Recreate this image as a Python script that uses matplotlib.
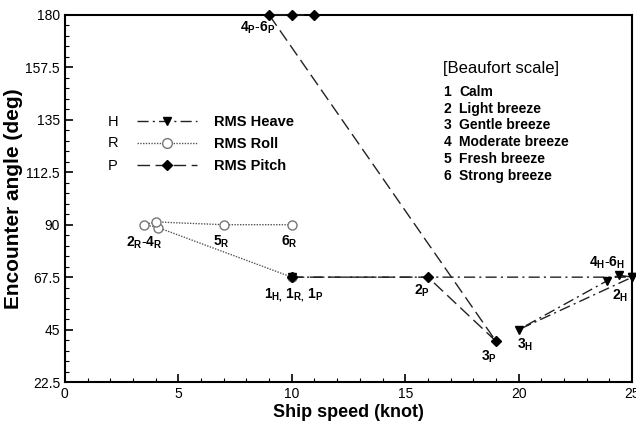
import numpy as np
import matplotlib
matplotlib.use("Agg")
import matplotlib.pyplot as plt
from matplotlib.ticker import MultipleLocator
from matplotlib.lines import Line2D

plt.rcParams['font.family'] = ['Liberation Sans', 'DejaVu Sans']
plt.rcParams['mathtext.fontset'] = 'custom'
plt.rcParams['mathtext.rm'] = 'Liberation Sans:bold'
plt.rcParams['mathtext.it'] = 'Liberation Sans:bold'
plt.rcParams['mathtext.bf'] = 'Liberation Sans:bold'
plt.rcParams['mathtext.default'] = 'rm'

# speed (knot) / encounter angle (deg), in Beaufort order 1..6
heave_speed = [10, 25, 20, 23.9, 24.4, 25]
heave_angle = [67.5, 67.5, 45, 66, 68.4, 67.5]
roll_speed = [10, 4.1, 3.5, 4.0, 7, 10]
roll_angle = [67.5, 88.8, 90, 91.2, 90, 90]
pitch_speed = [10, 16, 19, 9, 10, 11]
pitch_angle = [67.5, 67.5, 40, 180, 180, 180]

beaufort = ["Calm", "Light breeze", "Gentle breeze", "Moderate breeze",
            "Fresh breeze", "Strong breeze"]

heave_ls = (0, (8, 3, 1.5, 3))
roll_ls = (0, (1, 1))
pitch_ls = (0, (9, 4))

fig = plt.figure(figsize=(6.36, 4.25), dpi=100)
ax = fig.add_axes([0.102, 0.101, 0.892, 0.864])

ax.plot(roll_speed, roll_angle, color="#555555", ls=roll_ls, lw=1,
        marker="o", ms=6.5, mfc="white", mec="#777777", mew=1, zorder=3)
ax.plot(heave_speed, heave_angle, color="#222222", ls=heave_ls, lw=1,
        marker="v", ms=6, mfc="black", mec="black", clip_on=False, zorder=4)
ax.plot(pitch_speed, pitch_angle, color="#222222", ls=pitch_ls, lw=1,
        marker="D", ms=5, mfc="black", mec="black", clip_on=False, zorder=5)

ax.set_xlim(0, 25)
ax.set_ylim(22.5, 180)
ax.xaxis.set_major_locator(MultipleLocator(5))
ax.xaxis.set_minor_locator(MultipleLocator(1))
ax.yaxis.set_minor_locator(MultipleLocator(4.5))
ax.set_yticks([22.5, 45, 67.5, 90, 112.5, 135, 157.5, 180])
ax.set_yticklabels(["22.5", "45", "67.5", "90", "112.5", "135", "157.5", "180"])
ax.tick_params(which="both", direction="in", top=False, right=False, labelsize=10)
ax.tick_params(which="major", length=6, width=1.2)
ax.tick_params(which="minor", length=3, width=0.8)
for s in ax.spines.values():
    s.set_linewidth(1.5)

ax.set_xlabel("Ship speed (knot)", fontsize=13, fontweight="bold", labelpad=2)
ax.set_ylabel("Encounter angle (deg)", fontsize=15, fontweight="bold", labelpad=2)

# point labels
lab = dict(fontsize=10, ha="center", va="center")
ax.text(8.5, 174.5, r"$4_P$-$6_P$", **lab)
ax.text(3.5, 82.3, r"$2_R$-$4_R$", **lab)
ax.text(6.9, 82.5, r"$5_R$", **lab)
ax.text(9.9, 82.5, r"$6_R$", **lab)
ax.text(10.1, 59.5, r"$1_{H,}\,1_{R,}\,1_P$", **lab)
ax.text(15.75, 61.5, r"$2_P$", **lab)
ax.text(18.7, 33.5, r"$3_P$", **lab)
ax.text(20.3, 38.5, r"$3_H$", **lab)
ax.text(23.9, 73.5, r"$4_H$-$6_H$", **lab)
ax.text(24.45, 59.5, r"$2_H$", **lab)

# legend
handles = [
    Line2D([], [], color="#222222", ls=heave_ls, lw=1, marker="v",
           ms=6, mfc="black", mec="black"),
    Line2D([], [], color="#555555", ls=roll_ls, lw=1, marker="o", ms=7,
           mfc="white", mec="#777777"),
    Line2D([], [], color="#222222", ls=pitch_ls, lw=1, marker="D", ms=5,
           mfc="black", mec="black"),
]
leg = ax.legend(handles, ["RMS Heave", "RMS Roll", "RMS Pitch"],
                loc="upper left", bbox_to_anchor=(0.104, 0.762), frameon=False,
                handlelength=4.1, handletextpad=1.2, labelspacing=0.55,
                prop={"size": 10.5, "weight": "bold"})
for i, (k, y) in enumerate(zip(["H", "R", "P"], [0.709, 0.650, 0.589])):
    ax.text(0.085, y, k, transform=ax.transAxes, fontsize=10.5,
            ha="center", va="center")

# Beaufort scale box
ax.text(0.667, 0.853, "[Beaufort scale]", transform=ax.transAxes, fontsize=12,
        ha="left", va="center")
for i, name in enumerate(beaufort):
    y = 0.791 - i * 0.046
    ax.text(0.667, y, str(i + 1), transform=ax.transAxes, fontsize=10,
            fontweight="bold", ha="left", va="center")
    ax.text(0.695, y, name, transform=ax.transAxes, fontsize=10,
            fontweight="bold", ha="left", va="center")

fig.savefig("out.png", dpi=100)
